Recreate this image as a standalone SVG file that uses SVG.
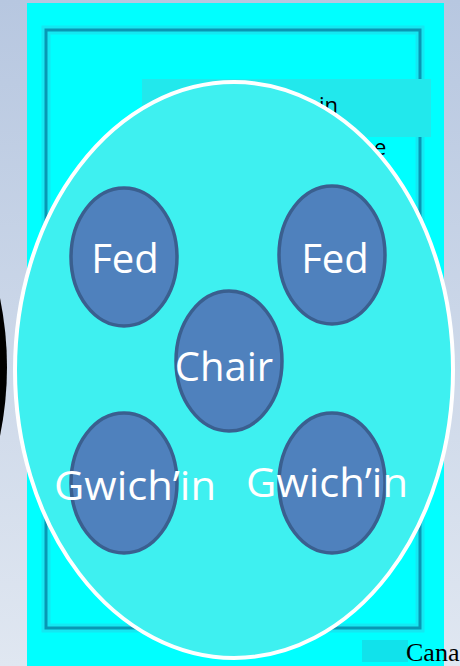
<svg xmlns="http://www.w3.org/2000/svg" width="460" height="666" viewBox="0 0 460 666">
  <defs>
    <linearGradient id="bg" x1="0" y1="0" x2="0" y2="1">
      <stop offset="0" stop-color="#b7c7e0"/>
      <stop offset="1" stop-color="#e0e7f1"/>
    </linearGradient>
    <style>
      .member { fill: #4f81bd; stroke: #3a5f8f; stroke-width: 3.5; }
      .label { font-family: "Open Sans", "DejaVu Sans", sans-serif; font-size: 40px; fill: #ffffff; text-anchor: middle; }
      .bgtext { font-family: "Open Sans", "DejaVu Sans", sans-serif; font-size: 22px; fill: #000000; }
    </style>
  </defs>

  <!-- background -->
  <rect x="0" y="0" width="460" height="666" fill="url(#bg)"/>
  <path d="M0,298 Q14,367 0,436 Z" fill="#000000"/>
  <rect x="27" y="3" width="417" height="663" fill="#00ffff"/>
  <rect x="46" y="30" width="374" height="598" fill="none" stroke="#22d8ea" stroke-width="9" opacity="0.6"/>
  <rect x="46" y="30" width="374" height="598" fill="none" stroke="#0898b4" stroke-width="3"/>
  <rect x="142" y="79" width="289" height="58" fill="#22e8ec"/>
  <text class="bgtext" x="319" y="113">in</text>
  <text class="bgtext" x="374" y="155">e</text>
  <rect x="362" y="640" width="46" height="22" fill="#18d6e2" opacity="0.7"/>
  <text x="406" y="661" font-family="Liberation Serif, serif" font-size="26" fill="#000000">Cana</text>

  <!-- committee ellipse -->
  <g id="committee">
    <ellipse cx="234" cy="370" rx="219" ry="288" fill="#3ef0f0" stroke="#ffffff" stroke-width="4"/>
  </g>

  <g id="connectors"></g>

  <g id="fed-left">
    <ellipse class="member" cx="124" cy="257" rx="53" ry="69"/>
    <text class="label" x="125" y="273">Fed</text>
  </g>
  <g id="fed-right">
    <ellipse class="member" cx="332" cy="255" rx="53" ry="69"/>
    <text class="label" x="335" y="273">Fed</text>
  </g>
  <g id="chair">
    <ellipse class="member" cx="229" cy="361" rx="53" ry="70"/>
    <text class="label" x="224" y="381">Chair</text>
  </g>
  <g id="gwichin-left">
    <ellipse class="member" cx="124" cy="483" rx="53" ry="70"/>
    <text class="label" x="135" y="500" textLength="162" lengthAdjust="spacingAndGlyphs">Gwich’in</text>
  </g>
  <g id="gwichin-right">
    <ellipse class="member" cx="332" cy="483" rx="53" ry="70"/>
    <text class="label" x="327" y="497" textLength="162" lengthAdjust="spacingAndGlyphs">Gwich’in</text>
  </g>
</svg>
